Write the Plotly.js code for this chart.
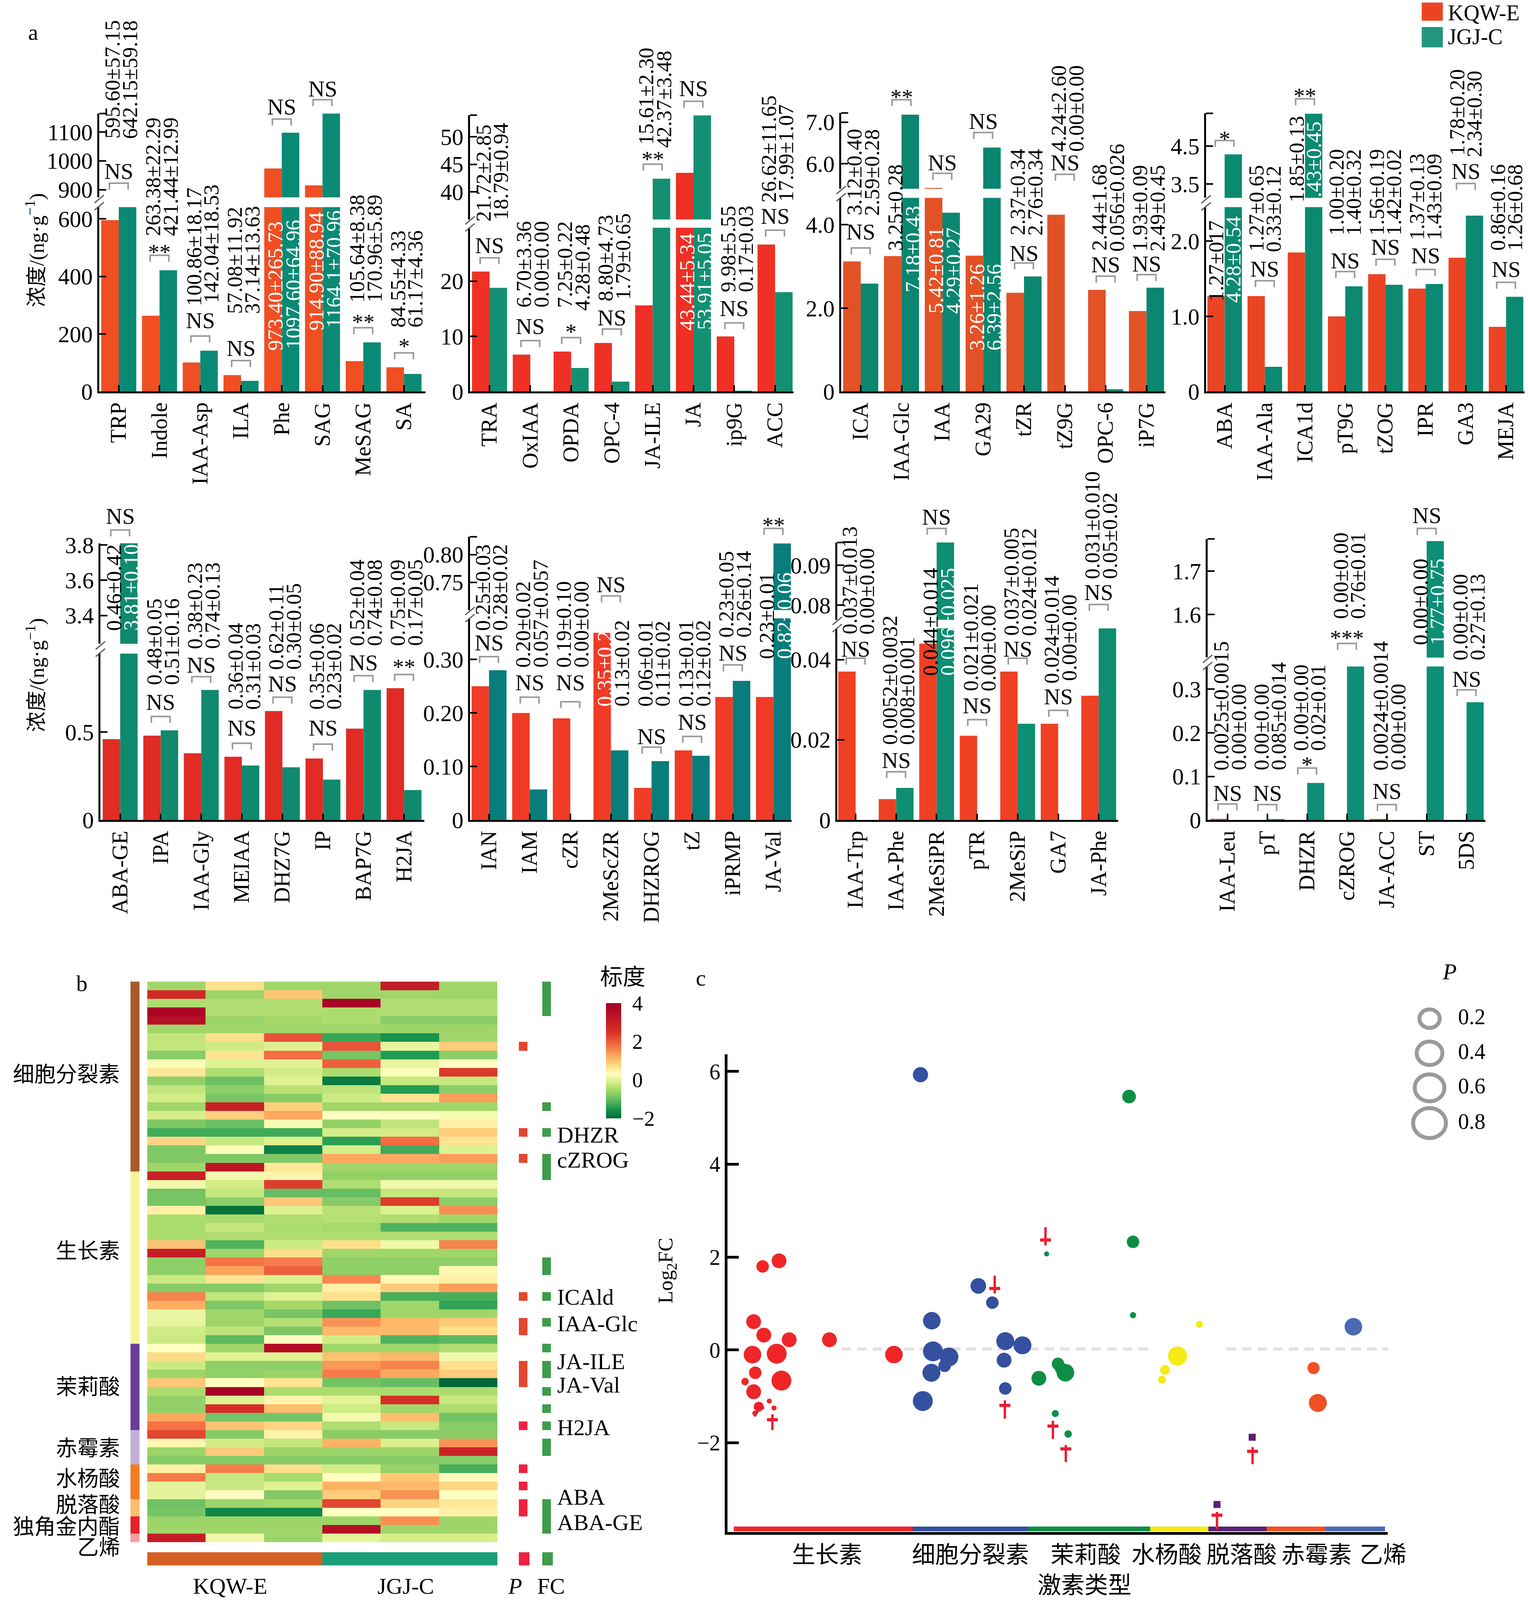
<!DOCTYPE html>
<html>
<head>
<meta charset="utf-8">
<script src="https://cdn.plot.ly/plotly-3.0.1.min.js"></script>
<style>html,body{margin:0;padding:0;background:#fff;overflow:hidden}</style>
</head>
<body>
<div id="chart" style="width:3911px"></div>
<script>
// panel a, upper row
var p1Names = ['TRP','Indole','IAA-Asp','ILA','Phe','SAG','MeSAG','SA'];
var p1Kqw = [595.60,263.38,100.86,57.08,973.40,914.90,105.64,84.55];
var p1Jgj = [642.15,421.44,142.04,37.14,1097.60,1164.1,170.96,61.17];
var p1KqwText = ['595.60±57.15','263.38±22.29','100.86±18.17','57.08±11.92','973.40±265.73','914.90±88.94','105.64±8.38','84.55±4.33'];
var p1JgjText = ['642.15±59.18','421.44±12.99','142.04±18.53','37.14±13.63','1097.60±64.96','1164.1±70.96','170.96±5.89','61.17±4.36'];
var p1Sig = ['NS','**','NS','NS','NS','NS','**','*'];

var p2Names = ['TRA','OxIAA','OPDA','OPC-4','JA-ILE','JA','ip9G','ACC'];
var p2Kqw = [21.72,6.70,7.25,8.80,15.61,43.44,9.98,26.62];
var p2Jgj = [18.79,0,4.28,1.79,42.37,53.91,0.17,17.99];
var p2KqwText = ['21.72±2.85','6.70±3.36','7.25±0.22','8.80±4.73','15.61±2.30','43.44±5.34','9.98±5.55','26.62±11.65'];
var p2JgjText = ['18.79±0.94','0.00±0.00','4.28±0.48','1.79±0.65','42.37±3.48','53.91±5.05','0.17±0.03','17.99±1.07'];
var p2Sig = ['NS','NS','*','NS','**','NS','NS','NS'];

var p3Names = ['ICA','IAA-Glc','IAA','GA29','tZR','tZ9G','OPC-6','iP7G'];
var p3Kqw = [3.12,3.25,5.42,3.26,2.37,4.24,2.44,1.93];
var p3Jgj = [2.59,7.18,4.29,6.39,2.76,0,0.056,2.49];
var p3KqwText = ['3.12±0.40','3.25±0.28','5.42±0.81','3.26±1.26','2.37±0.34','4.24±2.60','2.44±1.68','1.93±0.09'];
var p3JgjText = ['2.59±0.28','7.18±0.43','4.29±0.27','6.39±2.56','2.76±0.34','0.00±0.00','0.056±0.026','2.49±0.45'];
var p3Sig = ['NS','**','NS','NS','NS','NS','NS','NS'];

var p4Names = ['ABA','IAA-Ala','ICA1d','pT9G','tZOG','IPR','GA3','MEJA'];
var p4Kqw = [1.27,1.27,1.85,1.00,1.56,1.37,1.78,0.86];
var p4Jgj = [4.28,0.33,5.35,1.40,1.42,1.43,2.34,1.26];
var p4KqwText = ['1.27±017','1.27±0.65','1.85±0.13','1.00±0.20','1.56±0.19','1.37±0.13','1.78±0.20','0.86±0.16'];
var p4JgjText = ['4.28±0.54','0.33±0.12','.43±0.45','1.40±0.32','1.42±0.02','1.43±0.09','2.34±0.30','1.26±0.68'];
var p4Sig = ['*','NS','**','NS','NS','NS','NS','NS'];

// panel a, lower row
var p5Names = ['ABA-GE','IPA','IAA-Gly','MEIAA','DHZ7G','IP','BAP7G','H2JA'];
var p5Kqw = [0.46,0.48,0.38,0.36,0.62,0.35,0.52,0.75];
var p5Jgj = [3.81,0.51,0.74,0.31,0.30,0.23,0.74,0.17];
var p5KqwText = ['0.46±0.42','0.48±0.05','0.38±0.23','0.36±0.04','0.62±0.11','0.35±0.06','0.52±0.04','0.75±0.09'];
var p5JgjText = ['3.81±0.10','0.51±0.16','0.74±0.13','0.31±0.03','0.30±0.05','0.23±0.02','0.74±0.08','0.17±0.05'];
var p5Sig = ['NS','NS','NS','NS','NS','NS','NS','**'];

var p6Names = ['IAN','IAM','cZR','2MeScZR','DHZROG','tZ','iPRMP','JA-Val'];
var p6Kqw = [0.25,0.20,0.19,0.35,0.06,0.13,0.23,0.23];
var p6Jgj = [0.28,0.057,0,0.13,0.11,0.12,0.26,0.82];
var p6KqwText = ['0.25±0.03','0.20±0.02','0.19±0.10','0.35±0.2','0.06±0.01','0.13±0.01','0.23±0.05','0.23±0.01'];
var p6JgjText = ['0.28±0.02','0.057±0.057','0.00±0.00','0.13±0.02','0.11±0.02','0.12±0.02','0.26±0.14','0.82±0.06'];
var p6Sig = ['NS','NS','NS','NS','NS','NS','NS','**'];

var p7Names = ['IAA-Trp','IAA-Phe','2MeSiPR','pTR','2MeSiP','GA7','JA-Phe'];
var p7Kqw = [0.037,0.0052,0.044,0.021,0.037,0.024,0.031];
var p7Jgj = [0,0.008,0.096,0,0.024,0,0.05];
var p7KqwText = ['0.037±0.013','0.0052±0.0032','0.044±0.014','0.021±0.021','0.037±0.005','0.024±0.014','0.031±0.010'];
var p7JgjText = ['0.00±0.00','0.008±0.001','0.096±0.025','0.00±0.00','0.024±0.012','0.00±0.00','0.05±0.02'];
var p7Sig = ['NS','NS','NS','NS','NS','NS','NS'];

var p8Names = ['IAA-Leu','pT','DHZR','cZROG','JA-ACC','ST','5DS'];
var p8Kqw = [0.0025,0,0,0,0.0024,0,0];
var p8Jgj = [0,0.002,0.085,0.76,0,1.77,0.27];
var p8KqwText = ['0.0025±0.0015','0.00±0.00','0.00±0.00','0.00±0.00','0.0024±0.0014','0.00±0.00','0.00±0.00'];
var p8JgjText = ['0.00±0.00','0.085±0.014','0.02±0.01','0.76±0.01','0.00±0.00','1.77±0.75','0.27±0.13'];
var p8Sig = ['NS','NS','*','***','NS','NS','NS'];

// panel b, rows top to bottom, KQW-E x3 then JGJ-C x3
var heatValues = [
[-.55,.7,-.55,-.55,3.1,-.55],
[2.7,-.55,.95,-.55,-.55,-.55],
[-.42,-.42,-.42,3.9,-.42,-.42],
[3.85,-.42,-.42,-.45,-.42,-.42],
[3.5,-.6,-.5,-.45,-.72,-.72],
[-.55,-.55,-.55,-.55,-.55,-.55],
[-.28,.7,2.1,-1.3,-1.55,-.55],
[-.28,-.17,-.05,2.1,.05,.9],
[-.72,.65,1.8,-.85,-1.45,-.7],
[.25,-.03,-.03,1.95,.05,.3],
[.6,-.42,-.15,-.45,.25,2.4],
[-.65,-.95,-.03,-1.8,-.25,-.25],
[-.28,-.7,-.35,-.3,-1.45,-.7],
[-.15,-.85,-.72,-.2,.65,1.35],
[-.55,2.95,.85,-.55,-.55,-.55],
[-.12,.85,1.25,.3,.3,.2],
[-.8,-.95,.2,-.65,-.3,.5],
[-1.25,-1.25,-1.25,-.15,-.15,.9],
[.8,-.25,-.08,-1.4,1.8,.65],
[-.8,.25,-1.75,-.12,-1.25,-.05],
[-.8,-.8,-.8,1.25,1.25,1.35],
[-.55,3.3,.6,-.55,-.55,-.55],
[3.0,.15,.45,-.65,-.65,-.65],
[.15,-.15,2.35,-.42,.15,.15],
[-.88,-.25,-1.0,-1.0,-.25,-.25],
[-.85,-.72,.95,-.75,2.35,-.72],
[.5,-1.9,-.05,-.35,-.08,1.5],
[-.45,-.48,-.42,-.38,-.42,-.55],
[-.45,-.25,-.45,-.5,-1.15,-1.15],
[-.45,-.42,-.42,-.42,-.42,-.42],
[1.0,-1.15,-.2,.7,.15,1.6],
[3.05,-.55,.7,-.55,-.55,-.55],
[-.68,1.75,1.65,-.68,-.68,-.68],
[-.68,1.3,1.95,-.68,-.68,.4],
[-.22,.65,-.08,1.55,.4,.5],
[-.75,-.75,-.55,.5,.9,1.35],
[1.6,-.28,-.03,.68,-1.2,-1.2],
[1.2,-.82,-.5,-.93,-.55,-1.35],
[.08,-.55,-.85,-1.3,-.55,-.55],
[.05,-.55,-.38,1.45,1.1,.9],
[-.17,-.32,-.82,1.1,1.1,.7],
[-.22,-1.05,.3,-.18,-1.15,-1.05],
[.3,-.55,3.55,-.55,-.55,-.42],
[.75,-.03,-.03,1.0,1.1,.15],
[-.2,-.7,-.7,1.4,1.6,.7],
[-.55,-.65,-.6,1.65,1.25,.9],
[.95,.3,.65,-.9,-1.0,-2.0],
[-.45,3.9,-.45,-.45,-.45,-.45],
[-.65,-.05,.45,0,2.55,-.22],
[-.65,2.55,1.05,-.18,-.55,-.42],
[1.25,-.88,-.88,.15,1.05,-.9],
[1.75,1.0,.8,-.42,-.22,-.75],
[2.25,-.75,.45,-.72,-.72,-.72],
[.42,-.15,-.27,1.15,-.08,1.45],
[-.58,.9,-.58,-.58,-.58,2.95],
[-.75,-.75,-.75,-.75,-.75,-.75],
[.5,1.65,.7,-.15,-.6,-1.2],
[1.65,-.25,-.48,.3,.95,.35],
[.03,-.22,-.03,1.15,1.1,.8],
[.02,.3,-.78,.9,1.45,.3],
[-.92,-.58,-.52,2.25,.82,.6],
[-.88,-1.7,-1.7,.3,.3,.5],
[-.58,-.58,-.58,-.58,1.5,-.58],
[-.55,-.55,-.55,3.55,-.55,-.55],
[3.05,.15,-.58,.02,-.12,-.12]
];
var groupCounts = [22,20,10,4,4,2,2,1];
var groupNames = ['细胞分裂素','生长素','茉莉酸','赤霉素','水杨酸','脱落酸','独角金内酯','乙烯'];
var pRows = [7,17,20,36,39,40,44,45,46,51,56,58,60,61];
var fcRows = [0,1,2,3,14,17,20,21,22,32,33,36,39,42,44,45,47,49,51,53,54,60,61,62,63];
var heatMarked = ['DHZR','cZROG','ICAld','IAA-Glc','JA-ILE','JA-Val','H2JA','ABA','ABA-GE'];

// panel c
var auxinX = [13.2,9.0,6.7,9.3,15.8,26.1,6.4,12.6,7.1,13.8,4.5,6.7,10.7,11.9,8.0,7.0,42.6];
var auxinY = [1.92,1.80,.61,.32,.22,.22,-.10,-.08,-.49,-.66,-.68,-.90,-1.10,-1.25,-1.22,-1.36,-.10];
var auxinP = [38,32,38,38,38,38,45,51,32,51,19,38,13,13,25,13,45];
var ckX = [49.4,64.2,67.8,52.3,52.6,56.7,55.6,52.2,70.8,71.1,75.5,71.1,50.0];
var ckY = [5.93,1.38,1.02,.63,-.03,-.15,-.34,-.49,-.22,.19,.10,-.83,-1.10];
var ckP = [39,40,32,45,51,48,32,46,38,46,46,32,51];
var jaX = [102.8,103.8,103.8,81.7,84.6,85.4,86.5,79.7,83.9,87.2];
var jaY = [5.46,2.33,.75,2.07,-.30,-.40,-.49,-.61,-1.37,-1.81];
var jaP = [35,32,16,13,32,32,45,38,18,19];
var saX = [115.2,112,111.2,120.8];
var saY = [-.13,-.43,-.64,.55];
var saP = [49,25,20,18];
var abaX = [134.3,125.3];
var abaY = [-1.88,-3.33];
var abaP = [18,18];
var gaX = [150,151.1];
var gaY = [-.39,-1.14];
var gaP = [31,46];
var ethX = [160.2];
var ethY = [.50];
var ethP = [45];
var hormoneTypes = ['生长素','细胞分裂素','茉莉酸','水杨酸','脱落酸','赤霉素','乙烯'];
var hormoneColors = ['#EE2628','#34509F','#0E8E45','#F5EA14','#5A2170','#F05023','#4A6AB5'];
var hormoneTicks = [25.5,62.2,91.7,112.4,131.6,150.8,167.8];
var hormoneEdges = [1.6,47.4,77,108.2,123.1,138,152.9,168.3];
var pLegend = ['0.2','0.4','0.6','0.8'];

// all positions below are in reference pixels (3911x4489), the page height follows the window
var W = 3911, H = 4489;
var pageH = Math.min(H, window.innerHeight);
var vs = pageH/H;
var serif = '"Liberation Serif","Noto Sans CJK SC",serif';
document.getElementById('chart').style.height = pageH+'px';

// bar panels geometry
var names = [p1Names,p2Names,p3Names,p4Names,p5Names,p6Names,p7Names,p8Names];
var kqw = [p1Kqw,p2Kqw,p3Kqw,p4Kqw,p5Kqw,p6Kqw,p7Kqw,p8Kqw];
var jgj = [p1Jgj,p2Jgj,p3Jgj,p4Jgj,p5Jgj,p6Jgj,p7Jgj,p8Jgj];
var kqwText = [p1KqwText,p2KqwText,p3KqwText,p4KqwText,p5KqwText,p6KqwText,p7KqwText,p8KqwText];
var jgjText = [p1JgjText,p2JgjText,p3JgjText,p4JgjText,p5JgjText,p6JgjText,p7JgjText,p8JgjText];
var sigs = [p1Sig,p2Sig,p3Sig,p4Sig,p5Sig,p6Sig,p7Sig,p8Sig];
var axisLeft = [254,1203,2153,3087,257,1203,2143,3091];
var axisRight = [1089,2031,2983,3902,1086,2026,2862,3802];
var firstTick = [304,1253,2203,3134.5,307.6,1251.7,2190,3141.7];
var tickStep = [104.3,104.4,104.5,102.9,103.8,104,103.7,102];
var baseLine = [1098.6,1098.6,1098.6,1098.6,2300.5,2300.5,2300.5,2300.5];
var lowerTop = [581,639,555,581,1833.8,1734.8,1763,1870];
var lowerMax = [641,29.66,4.646,2.453,.9466,.377,.04778,.352];
var upperBottom = [553.6,615.6,529.5,555,1806,1711.5,1739,1845];
var upperTop = [318.5,323,317,318,1524,1506,1522,1512];
var upperRange = [[873.4,1164.1],[34.96,53.96],[5.40,7.22],[3.14,5.36],[3.24,3.81],[.70,.832],[.0763,.0957],[1.50,1.775]];
var lowerTicks = [[0,200,400,600],[0,10,20],[0,2,4],[0,1,2],[0,.5],[0,.1,.2,.3],[0,.02,.04],[0,.1,.2,.3]];
var lowerTickText = [['0','200','400','600'],['0','10','20'],['0','2.0','4.0'],['0','1.0','2.0'],['0','0.5'],['0','0.10','0.20','0.30'],['0','0.02','0.04'],['0','0.1','0.2','0.3']];
var upperTicks = [[900,1000,1100],[40,45,50],[6,7],[3.5,4.5],[3.4,3.6,3.8],[.75,.8],[.08,.09],[1.6,1.7]];
var upperTickText = [['900','1000','1100'],['40','45','50'],['6.0','7.0'],['3.5','4.5'],['3.4','3.6','3.8'],['0.75','0.80'],['0.08','0.09'],['1.6','1.7']];
var endTick = [1,1,1,1,0,1,1,1];
var labelShift = [6,6,6,0,6,6,6,6];
var redColor = ['#F04E23','#EF3024','#E35226','#EB4424','#E12B25','#F03B26','#F04024','#F04024'];
var tealColor = ['#0A8A74','#139073','#0B8670','#0B8971','#0F8A6E','#097D7B','#0E8E72','#0E8E74'];

var labelYK = [
[455,772,1000,1025,1145,1080,988,1070],
[725,1005,1005,985,475,1080,955,662],
[705,820,1025,1145,770,497,820,822],
[985,822,662,770,770,785,510,820],
[548,725,608,805,675,805,598,598],
[548,668,668,795,795,795,570,640],
[560,920,695,745,565,720,380],
[1003,1003,940,510,1003,595,645]];
var labelYJ = [
[455,772,990,1025,1140,1072,988,1070],
[720,1005,1015,980,485,1078,955,660],
[705,955,1025,1145,770,497,822,822],
[990,825,645,770,770,785,515,820],
[548,725,608,805,675,805,598,598],
[548,668,668,795,795,795,570,640],
[560,920,695,745,565,712,380],
[1003,1003,940,510,1003,595,645]];
var bracketY = [
[597,832,1095,1175,388,325,1068,1150],
[840,1110,1100,1072,535,330,1052,750],
[808,325,565,432,857,568,900,895],
[458,915,322,885,845,878,598,920],
[217,825,695,912,762,915,692,688],
[630,762,777,432,925,890,657,212],
[635,1005,212,835,635,805,460],
[1110,1112,993,587,1112,212,738]];
var sigY = [
[558,808,1045,1135,348,290,1035,1115],
[800,1063,1068,1035,505,288,1005,705],
[755,303,530,395,825,530,862,860],
[438,877,298,850,805,833,558,878],
[172,778,657,862,718,862,650,650],
[585,715,715,395,890,843,618,188],
[605,968,175,790,605,760,420],
[1075,1075,968,555,1068,170,703]];
var whiteK = [[4,5],[5],[2,3],[],[],[3],[],[]];
var whiteJ = [[4,5],[5],[1,2,3],[0,2],[0],[7],[2],[5]];
var cropY = 1.1615;

function fx(px){ return px/W; }
function fy(py){ return 1-py/H; }
function zy(z,k){ return (k<4?0:1300)+z/cropY; }

var data = [], annotations = [], shapes = [];
var layout = {
  width:W, height:pageH, margin:{l:0,r:0,t:0,b:0}, paper_bgcolor:'#fff', plot_bgcolor:'rgba(0,0,0,0)',
  showlegend:false, barmode:'group', bargap:.14, bargroupgap:0, font:{family:serif,color:'#000',size:58}
};

function text(t,px,py,size,opt){
  var a = {text:t,x:fx(px),y:fy(py),xref:'paper',yref:'paper',showarrow:false,font:{family:serif,size:size,color:'#000'},
    xanchor:'center',yanchor:'middle',borderpad:0,borderwidth:0};
  if(opt){ for(var o in opt){ a[o]=opt[o]; } }
  annotations.push(a);
}
function line(x0,y0,x1,y1,color,width){
  shapes.push({type:'line',xref:'paper',yref:'paper',x0:fx(x0),y0:fy(y0),x1:fx(x1),y1:fy(y1),line:{color:color,width:width}});
}

for(var k=0;k<8;k++){
  var xid = 'x'+(k+1), yLow = 'y'+(2*k+1), yUp = 'y'+(2*k+2);
  var n = names[k];
  data.push({type:'bar',x:n,y:kqw[k],xaxis:xid,yaxis:yLow,marker:{color:redColor[k]}});
  data.push({type:'bar',x:n,y:jgj[k],xaxis:xid,yaxis:yLow,marker:{color:tealColor[k]}});
  data.push({type:'bar',x:n,y:kqw[k],xaxis:xid,yaxis:yUp,marker:{color:redColor[k]}});
  data.push({type:'bar',x:n,y:jgj[k],xaxis:xid,yaxis:yUp,marker:{color:tealColor[k]}});

  layout['xaxis'+(k+1)] = {
    domain:[fx(axisLeft[k]),fx(axisRight[k])], anchor:yLow, type:'category', categoryorder:'array', categoryarray:n,
    range:[(axisLeft[k]-firstTick[k])/tickStep[k],(axisRight[k]-firstTick[k])/tickStep[k]],
    showline:true, linecolor:'#000', linewidth:5, ticks:'inside', ticklen:16, tickwidth:4, tickcolor:'#000',
    tickangle:-90, tickfont:{family:serif,size:62*vs,color:'#000'}, showgrid:false, zeroline:false
  };
  layout['yaxis'+(2*k+1)] = {
    domain:[fy(baseLine[k]),fy(lowerTop[k])], anchor:xid, range:[0,lowerMax[k]], tickmode:'array',
    tickvals:lowerTicks[k], ticktext:lowerTickText[k], showline:true, linecolor:'#000', linewidth:5,
    ticks:'inside', ticklen:18, tickwidth:4, tickcolor:'#000', tickfont:{family:serif,size:59,color:'#000'},
    showgrid:false, zeroline:false
  };
  layout['yaxis'+(2*k+2)] = {
    domain:[fy(upperBottom[k]),fy(upperTop[k])], anchor:xid, range:upperRange[k], tickmode:'array',
    tickvals:upperTicks[k], ticktext:upperTickText[k], showline:true, linecolor:'#000', linewidth:5,
    ticks:'inside', ticklen:18, tickwidth:4, tickcolor:'#000', tickfont:{family:serif,size:59,color:'#000'},
    showgrid:false, zeroline:false
  };
  if(endTick[k]) line(axisLeft[k],upperTop[k],axisLeft[k]+18,upperTop[k],'#000',4);

  // axis break marks
  var mid = (lowerTop[k]+upperBottom[k])/2;
  line(axisLeft[k]-12,mid+2,axisLeft[k]+12,mid-20,'#555',3);
  line(axisLeft[k]-12,mid+22,axisLeft[k]+12,mid,'#555',3);

  for(var i=0;i<n.length;i++){
    var cx = firstTick[k]+i*tickStep[k];
    annotations.push({text:kqwText[k][i],x:i-.215,y:fy(zy(labelYK[k][i],k)),xref:xid,yref:'paper',xshift:labelShift[k],showarrow:false,textangle:-90,
      xanchor:'center',yanchor:'bottom',font:{family:serif,size:60*vs,color:whiteK[k].indexOf(i)>=0?'#fff':'#000'}});
    annotations.push({text:jgjText[k][i],x:i+.215,y:fy(zy(labelYJ[k][i],k)),xref:xid,yref:'paper',xshift:labelShift[k],showarrow:false,textangle:-90,
      xanchor:'center',yanchor:'bottom',font:{family:serif,size:60*vs,color:whiteJ[k].indexOf(i)>=0?'#fff':'#000'}});
    var by = zy(bracketY[k][i],k);
    shapes.push({type:'path',xref:'paper',yref:'paper',
      path:'M'+fx(cx-24)+' '+fy(by+18)+' L'+fx(cx-24)+' '+fy(by)+' L'+fx(cx+24)+' '+fy(by)+' L'+fx(cx+24)+' '+fy(by+18),
      line:{color:'#9a9a9a',width:4}});
    var star = sigs[k][i].charAt(0)=='*';
    text(sigs[k][i],cx,zy(sigY[k][i],k)+(star?12:0),58);
  }
}

text('a',85,90,58);
text('b',209,2759,58);
text('c',1794,2744,58);
text('浓度/(ng·g<sup>−1</sup>)',90,702,58*vs,{textangle:-90});
text('浓度/(ng·g<sup>−1</sup>)',90,1894,58*vs,{textangle:-90});

// legend swatches
shapes.push({type:'rect',xref:'paper',yref:'paper',x0:fx(3639),x1:fx(3693),y0:fy(58),y1:fy(7),fillcolor:'#EB4424',line:{width:0}});
shapes.push({type:'rect',xref:'paper',yref:'paper',x0:fx(3639),x1:fx(3693),y0:fy(133),y1:fy(76),fillcolor:'#249580',line:{width:0}});
text('KQW-E',3706,36,56,{xanchor:'left'});
text('JGJ-C',3706,103,56,{xanchor:'left'});

// panel b
var heatScale = [[-2,'#006837'],[-1.5,'#1a9850'],[-1,'#66bd63'],[-.5,'#a6d96a'],[-.1,'#d9ef8b'],[.3,'#ffffbf'],[.7,'#fee08b'],[1.2,'#fdae61'],[1.8,'#f46d43'],[2.5,'#d73027'],[4,'#a50026']];
var colorscale = heatScale.map(function(s){ return [(s[0]+2)/6,s[1]]; });
var rowIds = heatValues.map(function(r,i){ return i; });
var heatTop = 2754, heatBottom = 4327;
data.push({type:'heatmap',z:heatValues,x:[0,1,2,3,4,5],y:rowIds,xaxis:'x9',yaxis:'y17',zmin:-2,zmax:4,colorscale:colorscale,
  colorbar:{x:fx(1551),xanchor:'left',y:fy(2814),yanchor:'top',len:323/H,lenmode:'fraction',thickness:39,thicknessmode:'pixels',
    outlinewidth:0,xpad:0,ypad:0,tickmode:'array',tickvals:[-2,0,2,4],ticktext:['−2','0','2','4'],ticks:'outside',ticklen:18,tickcolor:'#fff',
    tickfont:{family:serif,size:54,color:'#000'}}});
var groupColors = ['#A85A2A','#FAF29A','#6A3D9A','#C2B0D8','#F47C20','#FDBF6F','#E6222A','#F99AA0'];
var groupZ = [], groupScale = [];
groupCounts.forEach(function(c,g){
  for(var j=0;j<c;j++) groupZ.push([g]);
  groupScale.push([g/8,groupColors[g]]); groupScale.push([(g+1)/8,groupColors[g]]);
});
data.push({type:'heatmap',z:groupZ,y:rowIds,xaxis:'x10',yaxis:'y17',zmin:-.5,zmax:7.5,colorscale:groupScale,showscale:false});
var pZ = rowIds.map(function(r){ return pRows.indexOf(r)<0 ? [null] : [r<50?1:0]; });
data.push({type:'heatmap',z:pZ,y:rowIds,xaxis:'x11',yaxis:'y17',zmin:0,zmax:1,colorscale:[[0,'#F0203F'],[1,'#E2472F']],showscale:false});
var fcZ = rowIds.map(function(r){ return fcRows.indexOf(r)<0 ? [null] : [1]; });
data.push({type:'heatmap',z:fcZ,y:rowIds,xaxis:'x12',yaxis:'y17',zmin:0,zmax:1,colorscale:[[0,'#3E9C4A'],[1,'#3E9C4A']],showscale:false});
function blankAxis(dom,anchor,range){
  return {domain:dom,anchor:anchor,range:range,showline:false,showgrid:false,zeroline:false,showticklabels:false,ticks:''};
}
layout.xaxis9 = blankAxis([fx(377),fx(1273)],'y17',[-.5,5.5]);
layout.xaxis10 = blankAxis([fx(334),fx(357)],'y17',[-.5,.5]);
layout.xaxis11 = blankAxis([fx(1328),fx(1350)],'y17',[-.5,.5]);
layout.xaxis12 = blankAxis([fx(1388),fx(1410)],'y17',[-.5,.5]);
layout.yaxis17 = blankAxis([fy(heatBottom),fy(heatTop)],'x9',[64.5,-.5]);

shapes.push({type:'rect',xref:'paper',yref:'paper',x0:fx(377),x1:fx(825),y0:fy(4392),y1:fy(4355),fillcolor:'#D65F26',line:{width:0}});
shapes.push({type:'rect',xref:'paper',yref:'paper',x0:fx(825),x1:fx(1273),y0:fy(4392),y1:fy(4355),fillcolor:'#1A9E78',line:{width:0}});
shapes.push({type:'rect',xref:'paper',yref:'paper',x0:fx(1328),x1:fx(1355),y0:fy(4392),y1:fy(4355),fillcolor:'#F0203F',line:{width:0}});
shapes.push({type:'rect',xref:'paper',yref:'paper',x0:fx(1388),x1:fx(1415),y0:fy(4392),y1:fy(4355),fillcolor:'#3E9C4A',line:{width:0}});

var groupLabelY = [3014,3510,3891,4063,4149,4222,4284,4342];
groupNames.forEach(function(g,i){ text(g,307,groupLabelY[i],60*vs,{xanchor:'right'}); });
var markedY = [3184,3254,3639,3714,3820,3886,4005,4200,4272];
heatMarked.forEach(function(m,i){ text(m,1426,markedY[i],58,{xanchor:'left'}); });
text('标度',1594,2741,58);
text('KQW-E',589,4450,58);
text('JGJ-C',1038,4450,58);
text('<i>P</i>',1318,4450,58);
text('FC',1410,4450,58);
text('Log<sub>2</sub>FC',1707,3565,58*vs,{textangle:-90});

// panel c
var series = [[auxinX,auxinY,auxinP],[ckX,ckY,ckP],[jaX,jaY,jaP],[saX,saY,saP],[abaX,abaY,abaP],[gaX,gaY,gaP],[ethX,ethY,ethP]];
series.forEach(function(s,i){
  data.push({type:'scatter',mode:'markers',x:s[0],y:s[1],xaxis:'x13',yaxis:'y18',
    marker:{size:s[2],opacity:1,color:hormoneColors[i],symbol:i==4?'square':'circle',line:{width:0}}});
  shapes.push({type:'rect',xref:'x13',yref:'paper',x0:hormoneEdges[i],x1:hormoneEdges[i+1],y0:fy(4296),y1:fy(4283),fillcolor:hormoneColors[i],line:{width:0}});
});
layout.xaxis13 = {domain:[fx(1862),fx(3552)],anchor:'y18',range:[0,169],tickmode:'array',tickvals:hormoneTicks,ticktext:hormoneTypes,
  showline:true,linecolor:'#000',linewidth:7,ticks:'',showgrid:false,zeroline:false,tickfont:{family:serif,size:60,color:'#000'}};
layout.yaxis18 = {domain:[fy(4298),fy(2958)],anchor:'x13',range:[-3.92,6.37],tickmode:'array',tickvals:[-2,0,2,4,6],ticktext:['−2','0','2','4','6'],
  showline:true,linecolor:'#000',linewidth:7,ticks:'inside',ticklen:29,tickwidth:7,tickcolor:'#000',showgrid:false,zeroline:false,tickfont:{family:serif,size:56,color:'#000'}};
[[29.2,107.9],[127.7,169.7]].forEach(function(seg){
  shapes.push({type:'line',xref:'x13',yref:'y18',x0:seg[0],x1:seg[1],y0:.02,y1:.02,layer:'below',line:{color:'#e2e2e2',width:8,dash:'24px 16px'}});
});
text('激素类型',2776,4448,60);

// red arrows beside the significant points
var arrowX = [1977,2546,2676,2572,2695,2728,3206,3115];
var arrowTop = [3968,3579,3443,3929,3986,4054,4060,4242];
var arrowEnd = [4012,3629,3494,3980,4037,4102,4108,4290];
var arrowBar = [3983,3615,3479,3943,4001,4065,4072,4251];
arrowX.forEach(function(x,i){
  line(x,arrowTop[i],x,arrowEnd[i],'#ED1C2E',6);
  line(x-14,arrowBar[i],x+14,arrowBar[i],'#ED1C2E',8);
});
line(1931,3974,1951,3940,'#ED1C2E',6);
line(1930,3950,1956,3950,'#ED1C2E',6);

// P size key
var keyY = [2858,2955,3052,3151], keyD = [52,66,76,84];
pLegend.forEach(function(p,i){
  var r = keyD[i]/2;
  shapes.push({type:'circle',xref:'paper',yref:'paper',x0:fx(3659-r),x1:fx(3659+r),y0:fy(keyY[i]+r),y1:fy(keyY[i]-r),fillcolor:'rgba(0,0,0,0)',line:{color:'#9a9a9a',width:10}});
  text(p,3732,keyY[i]-5,56,{xanchor:'left'});
});
text('<i>P</i>',3710,2726,58);

layout.annotations = annotations;
layout.shapes = shapes;
Plotly.newPlot('chart',data,layout,{staticPlot:true});
</script>
</body>
</html>
